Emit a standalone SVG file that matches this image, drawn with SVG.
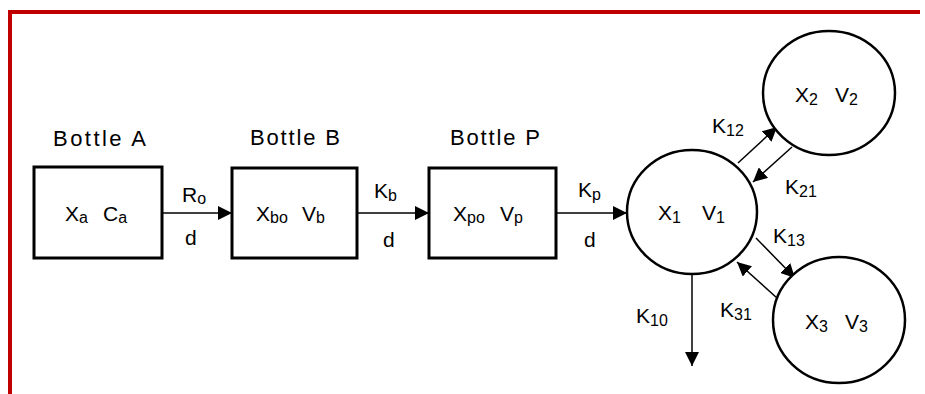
<svg xmlns="http://www.w3.org/2000/svg" width="925" height="394" viewBox="0 0 925 394">
<defs>
<marker id="ah" markerUnits="userSpaceOnUse" markerWidth="14" markerHeight="14" viewBox="0 0 14 14" refX="14" refY="7" orient="auto">
<path d="M0,0 L14,7 L0,14 Z" fill="#000"/>
</marker>
<style>
text{font-family:"Liberation Sans",Arial,sans-serif;font-size:21px;fill:#000}
.s{font-size:16px}
.lbl{font-size:22px}
.box{fill:#fff;stroke:#000;stroke-width:3}
.circ{fill:#fff;stroke:#000;stroke-width:2.5}
.edge{stroke:#000;stroke-width:1.5;fill:none;marker-end:url(#ah)}
</style>
</defs>
<rect width="925" height="394" fill="#fff"/>
<path d="M10,394 V12 H920" fill="none" stroke="#c00000" stroke-width="4"/>
<g id="connectors">
<line class="edge" x1="162" y1="213" x2="232" y2="213"/>
<line class="edge" x1="357" y1="213" x2="429" y2="213"/>
<line class="edge" x1="556" y1="213" x2="627" y2="213"/>
<line class="edge" x1="738" y1="163" x2="777" y2="127"/>
<line class="edge" x1="792" y1="147" x2="753" y2="182"/>
<line class="edge" x1="756" y1="238" x2="795" y2="278"/>
<line class="edge" x1="777" y1="298" x2="737" y2="262"/>
<line class="edge" x1="692" y1="274" x2="692" y2="366"/>
<text x="182" y="202">R<tspan class="s" dy="2">o</tspan></text>
<text x="185" y="245">d</text>
<text x="374" y="198">K<tspan class="s" dy="3">b</tspan></text>
<text x="383" y="247">d</text>
<text x="578" y="197">K<tspan class="s" dy="3">p</tspan></text>
<text x="584" y="247">d</text>
<text x="712" y="133">K<tspan class="s" dy="3">12</tspan></text>
<text x="785" y="194">K<tspan class="s" dy="3">21</tspan></text>
<text x="773" y="243">K<tspan class="s" dy="3">13</tspan></text>
<text x="720" y="317">K<tspan class="s" dy="3">31</tspan></text>
<text x="636" y="323">K<tspan class="s" dy="3">10</tspan></text>
</g>
<g id="bottleA">
<text class="lbl" x="53" y="146" textLength="93" lengthAdjust="spacing">Bottle A</text>
<rect class="box" x="34" y="167" width="128" height="91"/>
<text x="65" y="221">X<tspan class="s" dy="2">a</tspan><tspan x="103" dy="-2">C</tspan><tspan class="s" dy="2">a</tspan></text>
</g>
<g id="bottleB">
<text class="lbl" x="250" y="145" textLength="90" lengthAdjust="spacing">Bottle B</text>
<rect class="box" x="232" y="168" width="125" height="90"/>
<text x="256" y="221">X<tspan class="s" dy="2">bo</tspan><tspan x="302" dy="-2">V</tspan><tspan class="s" dy="2">b</tspan></text>
</g>
<g id="bottleP">
<text class="lbl" x="450" y="145" textLength="90" lengthAdjust="spacing">Bottle P</text>
<rect class="box" x="429" y="168" width="127" height="90"/>
<text x="453" y="221">X<tspan class="s" dy="2">po</tspan><tspan x="500" dy="-2">V</tspan><tspan class="s" dy="2">p</tspan></text>
</g>
<g id="c1">
<ellipse class="circ" cx="692" cy="212" rx="65" ry="62"/>
<text x="658" y="220">X<tspan class="s" dy="3">1</tspan><tspan x="702" dy="-3">V</tspan><tspan class="s" dy="3">1</tspan></text>
</g>
<g id="c2">
<ellipse class="circ" cx="829" cy="93" rx="66" ry="62"/>
<text x="795" y="102">X<tspan class="s" dy="3">2</tspan><tspan x="835" dy="-3">V</tspan><tspan class="s" dy="3">2</tspan></text>
</g>
<g id="c3">
<ellipse class="circ" cx="839" cy="320" rx="66" ry="63"/>
<text x="805" y="329">X<tspan class="s" dy="3">3</tspan><tspan x="845" dy="-3">V</tspan><tspan class="s" dy="3">3</tspan></text>
</g>
</svg>
